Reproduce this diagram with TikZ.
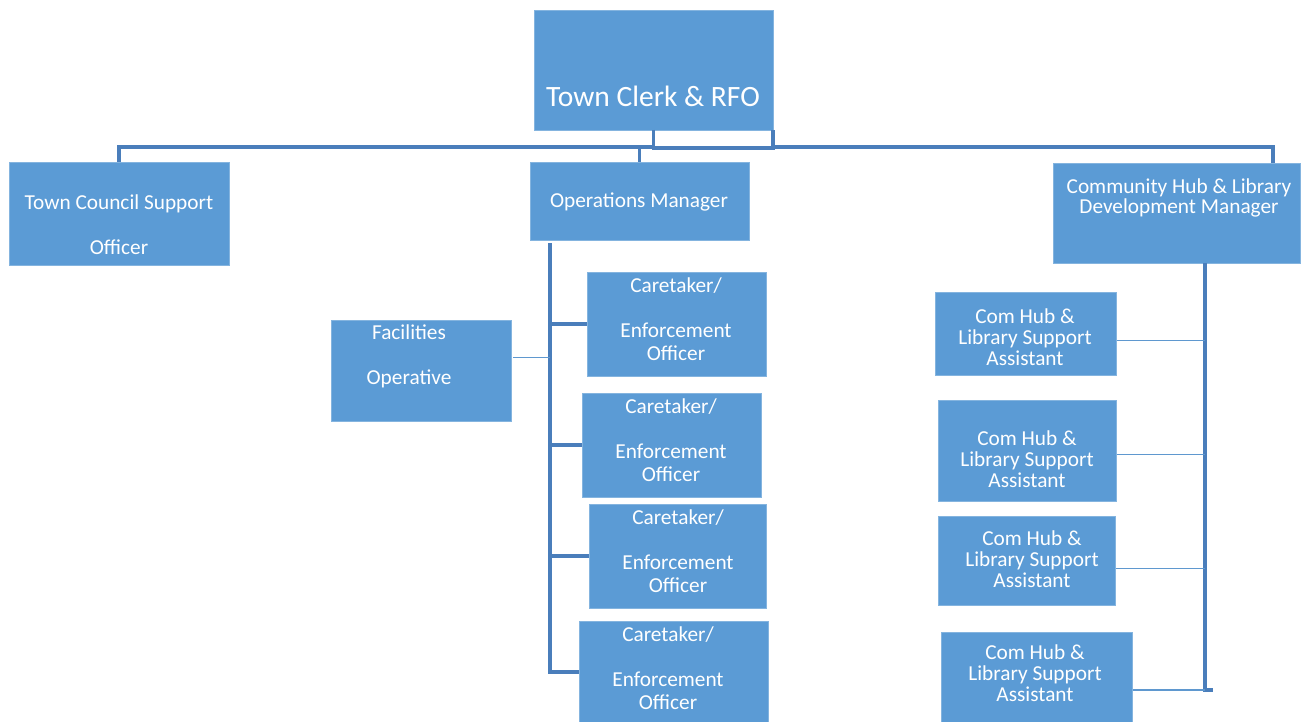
\documentclass[tikz,border=0pt]{standalone}
\usepackage{fontspec}
\setmainfont{Carlito}
\usetikzlibrary{calc}
\definecolor{boxblue}{HTML}{5B9BD5}
\definecolor{lineblue}{HTML}{4A7EBB}
\definecolor{thinblue}{HTML}{5F98CF}
\begin{document}
\begin{tikzpicture}[x=1pt,y=-1pt,
  box/.style={fill=boxblue, draw=boxblue!75!white, line width=0.8pt, inner sep=0pt, outer sep=0pt, anchor=north west},
  lbl/.style={text=white, align=center, inner sep=0pt, font=\fontsize{21.3}{20.7}\selectfont},
  gaplbl/.style={text=white, align=center, inner sep=0pt, font=\fontsize{21.3}{23}\selectfont},
  biglbl/.style={text=white, align=center, inner sep=0pt, font=\fontsize{29.5}{32}\selectfont},
  conn/.style={draw=lineblue, line width=3.2pt},
  thinconn/.style={draw=thinblue, line width=1.6pt}]
\useasboundingbox (0,0) rectangle (1301,722);

% boxes
\node[box, minimum width=239, minimum height=120] (tc) at (534,10) {};
\node[box, minimum width=220, minimum height=103] (tcso) at (9,162) {};
\node[box, minimum width=219, minimum height=78] (ops) at (530,162) {};
\node[box, minimum width=247, minimum height=100] (chl) at (1053,163) {};
\node[box, minimum width=180, minimum height=101] (fo) at (331,320) {};
\node[box, minimum width=179, minimum height=104] (ct1) at (587,272) {};
\node[box, minimum width=179, minimum height=104] (ct2) at (582,393) {};
\node[box, minimum width=177, minimum height=104] (ct3) at (589,504) {};
\node[box, minimum width=189, minimum height=102] (ct4) at (579,621) {};
\node[box, minimum width=181, minimum height=83] (ch1) at (935,292) {};
\node[box, minimum width=178, minimum height=101] (ch2) at (938,400) {};
\node[box, minimum width=177, minimum height=89] (ch3) at (938,516) {};
\node[box, minimum width=191, minimum height=92] (ch4) at (941,632) {};

% labels
\node[biglbl] (tct) at (653,96) {Town Clerk \& RFO};
\node[gaplbl] (tcsot) at (119,225) {Town Council Support\\[22pt]Officer};
\node[lbl] (opst) at (639,202) {Operations Manager};
\node[lbl] (chlt) at (1179,198) {Community Hub \& Library\\Development Manager};
\node[gaplbl] (fot) at (409,356) {Facilities\\[22pt]Operative};
\node[gaplbl] (ct1t) at (676,319) {Caretaker/\\[22pt]Enforcement\\Officer};
\node[gaplbl] (ct2t) at (671,440) {Caretaker/\\[22pt]Enforcement\\Officer};
\node[gaplbl] (ct3t) at (678,551) {Caretaker/\\[22pt]Enforcement\\Officer};
\node[gaplbl] (ct4t) at (668,668) {Caretaker/\\[22pt]Enforcement\\Officer};
\node[lbl] (ch1t) at (1025,337) {Com Hub \&\\Library Support\\Assistant};
\node[lbl] (ch2t) at (1027,459) {Com Hub \&\\Library Support\\Assistant};
\node[lbl] (ch3t) at (1032,559) {Com Hub \&\\Library Support\\Assistant};
\node[lbl] (ch4t) at (1035,673) {Com Hub \&\\Library Support\\Assistant};

% coordinates for junctions
\coordinate (hub) at ($(tc.south)+(0,17)$);
\coordinate (chltop) at ($(chl.north west)+(220,0)$);
\coordinate (opsbus) at ($(ops.south west)+(20,3)$);
\coordinate (chlbus) at ($(chl.south west)+(152,0)$);
\coordinate (chlbusend) at ($(chlbus)+(0,427)$);
\coordinate (chltick) at ($(chlbusend)+(8,0)$);
\coordinate (fopt) at ($(fo.east)+(2,-13)$);
\coordinate (ch1pt) at ($(ch1.east)+(1,7)$);
\coordinate (ch2pt) at ($(ch2.east)+(1,4)$);
\coordinate (ch3pt) at ($(ch3.east)+(1,8)$);
\coordinate (ch4pt) at ($(ch4.east)+(1,12)$);

% top level connectors
\draw[conn] (tc.south) -- ($(tc.south)+(0,18)$) -| (tc.south east);
\draw[conn] (tcso.north) |- (hub);
\draw[conn] (ops.north) -- (ops.north |- hub);
\draw[conn] ($(tc.south east)+(0,17)$) -| (chltop);

% operations branch
\draw[conn] (opsbus) |- (ct4.west);
\draw[conn] (opsbus |- ct1.west) -- (ct1.west);
\draw[conn] (opsbus |- ct2.west) -- (ct2.west);
\draw[conn] (opsbus |- ct3.west) -- (ct3.west);
\draw[thinconn] (fopt) -- (opsbus |- fopt);

% community hub branch
\draw[conn] (chlbus) -- (chlbusend) -- (chltick);
\draw[thinconn] (ch1pt) -- (chlbus |- ch1pt);
\draw[thinconn] (ch2pt) -- (chlbus |- ch2pt);
\draw[thinconn] (ch3pt) -- (chlbus |- ch3pt);
\draw[thinconn] (ch4pt) -- (chlbus |- ch4pt);
\end{tikzpicture}
\end{document}
